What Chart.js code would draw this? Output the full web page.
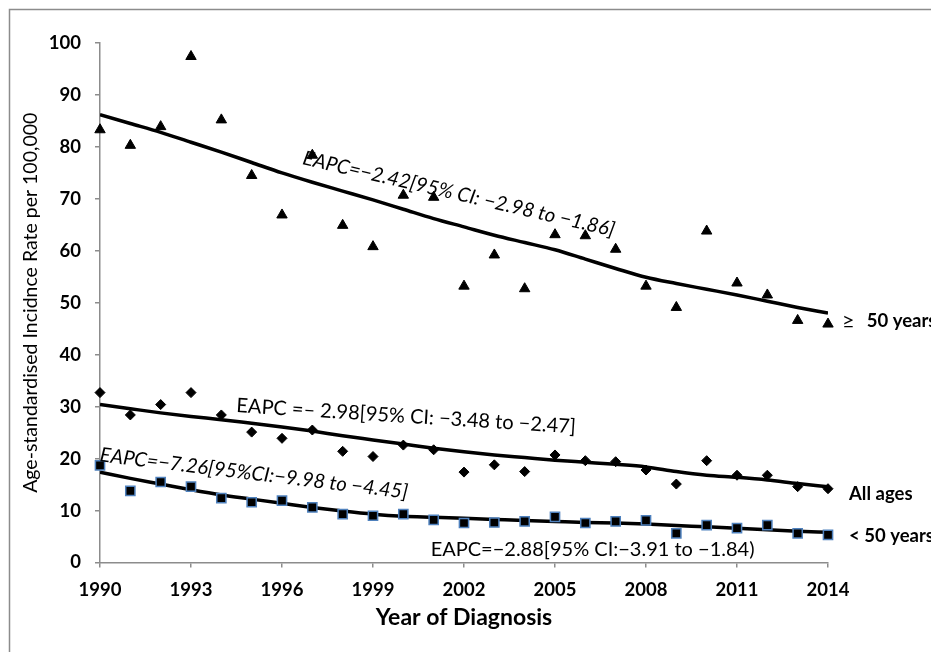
<!DOCTYPE html>
<html>
<head>
<meta charset="utf-8">
<script src="https://cdn.jsdelivr.net/npm/chart.js@4.4.1/dist/chart.umd.min.js"></script>
<style>
  body { margin: 0; background: #fff; }
  #wrap { width: 931px; height: 652px; position: relative; }
</style>
</head>
<body>
<div id="wrap"><canvas id="incidenceChart"></canvas></div>
<script>
// Years and tick values
const years = [1990, 1991, 1992, 1993, 1994, 1995, 1996, 1997, 1998, 1999, 2000, 2001, 2002,
               2003, 2004, 2005, 2006, 2007, 2008, 2009, 2010, 2011, 2012, 2013, 2014];
const xTicks = [1990, 1993, 1996, 1999, 2002, 2005, 2008, 2011, 2014];
const yTicks = [0, 10, 20, 30, 40, 50, 60, 70, 80, 90, 100];

const over50Rates = [83.3, 80.3, 83.9, 97.4, 85.2, 74.5, 66.9, 78.4, 64.9, 60.8, 70.7, 70.3, 53.2,
                     59.2, 52.7, 63.1, 62.9, 60.3, 53.2, 49.1, 63.8, 53.8, 51.5, 46.6, 45.9];
const allAgesRates = [32.7, 28.4, 30.4, 32.7, 28.4, 25.1, 23.9, 25.5, 21.4, 20.4, 22.6, 21.7, 17.4,
                      18.8, 17.5, 20.7, 19.6, 19.4, 17.8, 15.1, 19.6, 16.8, 16.8, 14.6, 14.2];
const under50Rates = [18.7, 13.8, 15.5, 14.6, 12.4, 11.6, 11.9, 10.6, 9.3, 9.0, 9.3, 8.2, 7.6,
                      7.7, 7.9, 8.8, 7.6, 7.9, 8.1, 5.6, 7.2, 6.6, 7.2, 5.6, 5.3];

// Fitted trends
const over50Trend = [86.2, 84.5, 82.8, 80.9, 79.0, 77.0, 75.0, 73.2, 71.5, 69.8, 68.0, 66.2, 64.6,
                     63.0, 61.6, 60.2, 58.4, 56.6, 54.9, 53.7, 52.6, 51.5, 50.3, 49.1, 48.0];
const allAgesTrend = [30.4, 29.6, 28.8, 28.1, 27.5, 26.8, 26.1, 25.3, 24.4, 23.6, 22.8, 22.0, 21.3,
                      20.7, 20.2, 19.7, 19.3, 18.9, 18.4, 17.5, 16.8, 16.4, 15.9, 15.2, 14.6];
const under50Trend = [17.4, 16.2, 15.1, 14.0, 13.0, 12.2, 11.4, 10.6, 9.9, 9.3, 8.9, 8.7, 8.5,
                      8.3, 8.1, 7.9, 7.7, 7.6, 7.4, 7.1, 6.9, 6.6, 6.3, 6.0, 5.8];

// Text placed on the chart, anchored in data space
const annotations = [
    { text: 'EAPC=\u22122.42[95% CI: \u22122.98 to \u22121.86]', x: 1996.7, y: 77.9, angle: 13.1, font: 'italic 20px Lato' },
    { text: 'EAPC =\u2013 2.98[95% CI: \u22123.48 to \u22122.47]', x: 1994.5, y: 30.2, angle: 3.6, font: '20px Lato' },
    { text: 'EAPC=\u22127.26[95%CI:\u22129.98 to \u22124.45]', x: 1990, y: 20.7, angle: 6.9, font: 'italic 20px Lato' },
    { text: 'EAPC=\u22122.88[95% CI:\u22123.91 to \u22121.84)', x: 2000.9, y: 2.4, angle: 0, font: '20px Lato' }
];
const seriesLabels = [
    { parts: [['\u2265', '22px Lato', 12], ['50 years', 'bold 18.5px Lato', 0]], y: 46.5, dx: 14 },
    { parts: [['All ages', 'bold 18.5px Lato', 0]], y: 13.2, dx: 21 },
    { parts: [['< 50 years', 'bold 18.5px Lato', 0]], y: 5.1, dx: 21 }
];

const toPoints = arr => arr.map((v, i) => ({ x: years[i], y: v }));

const frame = {
    id: 'frame',
    beforeDraw(chart) {
        const c = chart.ctx;
        c.save();
        c.fillStyle = '#fff';
        c.fillRect(0, 0, chart.width, chart.height);
        c.strokeStyle = '#8c8c8c';
        c.lineWidth = 1.5;
        c.strokeRect(9.5, 9.5, chart.width + 10, chart.height + 10);
        c.restore();
    }
};

const notes = {
    id: 'notes',
    afterDatasetsDraw(chart) {
        const c = chart.ctx;
        const xs = chart.scales.x, ys = chart.scales.y;
        c.save();
        c.fillStyle = '#000';
        c.textBaseline = 'middle';
        c.textAlign = 'left';
        annotations.forEach(a => {
            c.save();
            c.translate(xs.getPixelForValue(a.x), ys.getPixelForValue(a.y));
            c.rotate(a.angle * Math.PI / 180);
            c.font = a.font;
            c.fillText(a.text, 0, 0);
            c.restore();
        });
        seriesLabels.forEach(l => {
            let px = xs.getPixelForValue(2014) + l.dx;
            const py = ys.getPixelForValue(l.y);
            l.parts.forEach(p => {
                c.font = p[1];
                c.fillText(p[0], px, py);
                px += c.measureText(p[0]).width + p[2];
            });
        });
        c.restore();
    }
};

Chart.defaults.font.family = 'Lato';
Chart.defaults.color = '#000';

const markerBase = { clip: false, borderWidth: 1 };
const trendBase = { showLine: true, pointRadius: 0, borderColor: '#000', borderWidth: 3.5, cubicInterpolationMode: 'monotone' };

const ctx = document.getElementById('incidenceChart').getContext('2d');
const incidenceChart = new Chart(ctx, {
    type: 'scatter',
    data: {
        datasets: [
            { ...markerBase, label: '\u2265 50 years', data: toPoints(over50Rates),
              pointStyle: 'triangle', pointRadius: 6, backgroundColor: '#000', borderColor: '#000' },
            { ...markerBase, label: 'All ages', data: toPoints(allAgesRates),
              pointStyle: 'rectRot', pointRadius: 5, backgroundColor: '#000', borderColor: '#000' },
            { ...markerBase, label: '< 50 years', data: toPoints(under50Rates),
              pointStyle: 'rect', pointRadius: 6.5, backgroundColor: '#000', borderColor: '#4f81bd', borderWidth: 1.5 },
            { ...trendBase, label: '\u2265 50 years trend', data: toPoints(over50Trend) },
            { ...trendBase, label: 'All ages trend', data: toPoints(allAgesTrend) },
            { ...trendBase, label: '< 50 years trend', data: toPoints(under50Trend) }
        ]
    },
    options: {
        responsive: true,
        maintainAspectRatio: false,
        animation: false,
        layout: { padding: { left: 0, top: 43, right: 103, bottom: 0 } },
        plugins: {
            legend: { display: false },
            tooltip: { enabled: false }
        },
        scales: {
            x: {
                type: 'linear',
                min: 1990,
                max: 2014,
                afterBuildTicks: axis => { axis.ticks = xTicks.map(v => ({ value: v })); },
                afterFit: axis => { axis.height = 89.5; },
                grid: { drawOnChartArea: false, drawTicks: true, tickLength: 5, color: '#8c8c8c', lineWidth: 1.5 },
                border: { color: '#8c8c8c', width: 1.5 },
                ticks: { font: { size: 18.5, weight: 'bold' }, padding: 11, maxRotation: 0, callback: v => String(v) },
                title: {
                    display: true,
                    text: 'Year of Diagnosis',
                    font: { size: 23, weight: 'bold' },
                    padding: { top: 0, bottom: 21 }
                }
            },
            y: {
                min: 0,
                max: 100,
                afterBuildTicks: axis => { axis.ticks = yTicks.map(v => ({ value: v })); },
                afterFit: axis => { axis.width = 100; },
                grid: { drawOnChartArea: false, drawTicks: true, tickLength: 5, color: '#8c8c8c', lineWidth: 1.5 },
                border: { color: '#8c8c8c', width: 1.5 },
                ticks: { font: { size: 18.5, weight: 'bold' }, padding: 14 },
                title: {
                    display: true,
                    text: 'Age-standardised Incidnce Rate per 100,000',
                    font: { size: 19.5 },
                    padding: { top: 19, bottom: 0 }
                }
            }
        }
    },
    plugins: [frame, notes]
});
</script>
</body>
</html>
